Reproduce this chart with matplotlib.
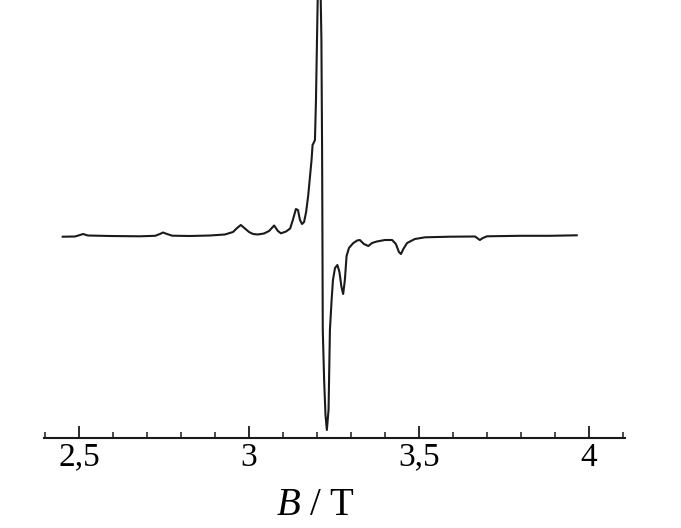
import matplotlib.pyplot as plt
from matplotlib.ticker import MultipleLocator

# EPR spectrum, values (B in T, signal in arb. units)
field = [2.452, 2.488, 2.503, 2.512, 2.526, 2.591, 2.679, 2.724, 2.738, 2.747,
         2.759, 2.774, 2.826, 2.885, 2.929, 2.953, 2.965, 2.976, 2.988, 3.000,
         3.012, 3.026, 3.044, 3.059, 3.074, 3.085, 3.094, 3.109, 3.121, 3.129,
         3.138, 3.144, 3.150, 3.156, 3.162, 3.168, 3.174, 3.179, 3.184, 3.187,
         3.190, 3.194, 3.197, 3.200, 3.204, 3.209, 3.213, 3.215, 3.216, 3.217,
         3.221, 3.225, 3.229, 3.234, 3.238, 3.243, 3.247, 3.253, 3.260, 3.266,
         3.272, 3.277, 3.282, 3.287, 3.294, 3.306, 3.318, 3.326, 3.338, 3.351,
         3.362, 3.376, 3.400, 3.421, 3.432, 3.441, 3.447, 3.454, 3.465, 3.488,
         3.518, 3.591, 3.665, 3.671, 3.679, 3.688, 3.700, 3.797, 3.885, 3.964]
signal = [-0.7, -0.5, 1, 2, 0.5, 0, -0.3, 0.2, 2, 3.5,
          2, 0.3, 0, 0.5, 1.5, 4, 8, 11, 7.5, 4,
          2, 1.5, 2.5, 5, 10.5, 5, 2.7, 4.5, 7.5, 16,
          27, 26, 16, 12, 14, 24, 40, 58, 76, 91,
          93, 96, 136, 196, 276, 276, 196, 86, 0, -94,
          -144, -179, -194, -174, -94, -64, -44, -32, -29, -36,
          -51, -58, -44, -20, -12, -7.3, -4.5, -4, -8, -10,
          -7, -5.5, -4, -4, -8, -16, -18, -13, -7, -3,
          -1.3, -0.7, -0.5, -2, -4, -2, -0.3, 0.2, 0.2, 0.7]

major_ticks = [2.5, 3.0, 3.5, 4.0]
tick_labels = ["2,5", "3", "3,5", "4"]

plt.rcParams['font.family'] = ['Liberation Serif', 'DejaVu Serif']
plt.rcParams['mathtext.fontset'] = 'custom'
plt.rcParams['mathtext.it'] = 'Liberation Serif:italic'
plt.rcParams['mathtext.rm'] = 'Liberation Serif'

fig = plt.figure(figsize=(6.81, 5.28), dpi=100)
ax = fig.add_axes([44 / 681, 90 / 528, 581 / 681, 438 / 528])

ax.plot(field, signal, color='#1a1a1a', linewidth=1.5, solid_joinstyle='round')

ax.set_xlim(2.397, 4.106)
ax.set_ylim(-202, 236)

for side in ['top', 'left', 'right']:
    ax.spines[side].set_visible(False)
ax.spines['bottom'].set_linewidth(1.5)
ax.spines['bottom'].set_color('#1a1a1a')
ax.set_yticks([])

ax.set_xticks(major_ticks)
ax.set_xticklabels(tick_labels)
ax.xaxis.set_minor_locator(MultipleLocator(0.1))
ax.tick_params(axis='x', which='major', direction='in', length=8.5, width=1.3,
               labelsize=24, pad=3, color='#1a1a1a')
ax.tick_params(axis='x', which='minor', direction='in', length=4, width=1.1,
               color='#1a1a1a')

fig.text(316 / 681, 13 / 528, "$B$ / T", fontsize=28, ha='center', va='baseline')

plt.savefig("out.png", dpi=100)
